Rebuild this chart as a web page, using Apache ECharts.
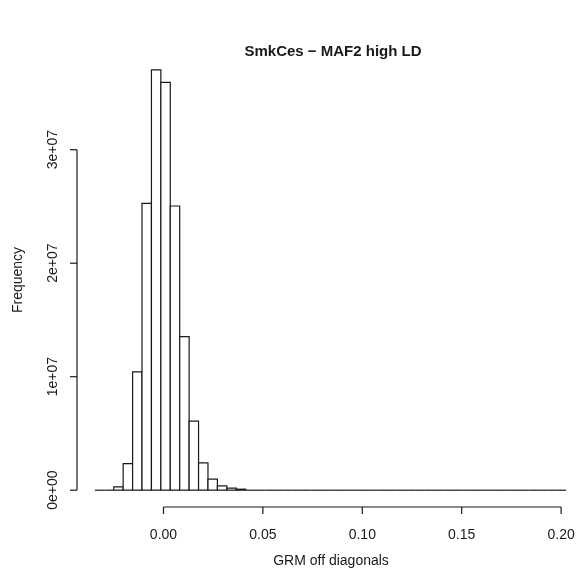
<!DOCTYPE html>
<html>
<head>
<meta charset="utf-8">
<script src="https://cdn.jsdelivr.net/npm/echarts@6/dist/echarts.min.js"></script>
<style>
  html, body { margin: 0; padding: 0; background: #fff; }
  #chart { width: 580px; height: 582px; }
</style>
</head>
<body>
<div id="chart"></div>
<script>
// ---- data ----
const titleText = 'SmkCes \u2212 MAF2 high LD';
const xAxisTitle = 'GRM off diagonals';
const yAxisTitle = 'Frequency';
const binStart = -0.0345;   // first histogram break
const binWidth = 0.00474;   // width of each bin
const counts = [
  5000, 40000, 300000, 2350000, 10430000, 25270000, 37040000, 35930000, 25040000, 13530000,
  6080000, 2410000, 970000, 390000, 180000, 90000, 50000, 30000, 20000, 12000,
  8000, 5000, 3000, 2000, 1000, 500, 300, 200, 100, 50,
  30, 20, 10, 5, 3, 2, 1, 1, 0, 0,
  0, 0, 0, 0, 0, 0, 0, 0, 0, 1
];
const xTickValues = [0, 0.05, 0.10, 0.15, 0.20];
const xTickLabels = ['0.00', '0.05', '0.10', '0.15', '0.20'];
const yTickValues = [0, 10000000, 20000000, 30000000];
const yTickLabels = ['0e+00', '1e+07', '2e+07', '3e+07'];

// ---- build ----
const binData = counts.map((c, i) => [binStart + i * binWidth, binStart + (i + 1) * binWidth, c]);
const X_MIN = -0.0435, X_MAX = 0.208;
const Y_MIN = -1480000, Y_MAX = 38520000;
const FONT = '"Liberation Sans", Arial, Helvetica, sans-serif';
const INK = '#1a1a1a';

function lookup(values, labels, v, tol) {
  for (let i = 0; i < values.length; i++) {
    if (Math.abs(values[i] - v) < tol) return labels[i];
  }
  return '';
}

const chart = echarts.init(document.getElementById('chart'), null, { renderer: 'canvas' });
chart.setOption({
  animation: false,
  backgroundColor: '#ffffff',
  title: {
    text: titleText,
    left: 328,
    top: 39,
    textAlign: 'center',
    textStyle: { fontFamily: FONT, fontSize: 15, fontWeight: 'bold', color: INK }
  },
  grid: { left: 77, right: 0, top: 53, bottom: 75, containLabel: false },
  xAxis: {
    type: 'value',
    min: X_MIN,
    max: X_MAX,
    splitNumber: 5,
    axisLine: { show: false },
    axisTick: { show: false },
    splitLine: { show: false },
    axisLabel: {
      margin: 21,
      fontFamily: FONT, fontSize: 14, color: INK,
      showMinLabel: true, showMaxLabel: true,
      formatter: v => lookup(xTickValues, xTickLabels, v, 1e-6)
    },
    name: xAxisTitle,
    nameLocation: 'middle',
    nameGap: 47,
    nameTextStyle: { fontFamily: FONT, fontSize: 14, color: INK, padding: [0, 0, 0, 8] }
  },
  yAxis: {
    type: 'value',
    min: Y_MIN,
    max: Y_MAX,
    splitNumber: 4,
    axisLine: { show: false },
    axisTick: { show: false },
    splitLine: { show: false },
    axisLabel: {
      rotate: 90,
      margin: 17,
      fontFamily: FONT, fontSize: 14, color: INK,
      formatter: v => lookup(yTickValues, yTickLabels, v, 1)
    },
    name: yAxisTitle,
    nameLocation: 'middle',
    nameGap: 52,
    nameTextStyle: { fontFamily: FONT, fontSize: 14, color: INK }
  },
  series: [
    {
      type: 'custom',
      name: 'hist',
      data: binData,
      encode: { x: [0, 1], y: 2 },
      renderItem: function (params, api) {
        const p0 = api.coord([api.value(0), api.value(2)]);
        const p1 = api.coord([api.value(1), 0]);
        const h = p1[1] - p0[1];
        if (h < 0.6) {
          return {
            type: 'line',
            shape: { x1: p0[0], y1: p1[1], x2: p1[0], y2: p1[1] },
            style: { stroke: INK, lineWidth: 1.2 }
          };
        }
        return {
          type: 'rect',
          shape: { x: p0[0], y: p0[1], width: p1[0] - p0[0], height: h },
          style: { fill: '#ffffff', stroke: INK, lineWidth: 1.2 }
        };
      }
    },
    {
      type: 'custom',
      name: 'axes',
      data: [[0, 0]],
      silent: true,
      renderItem: function (params, api) {
        const children = [];
        const st = { stroke: INK, lineWidth: 1.2 };
        const tl = 7;
        // x axis
        const xa = api.coord([xTickValues[0], Y_MIN]);
        const xb = api.coord([xTickValues[xTickValues.length - 1], Y_MIN]);
        children.push({ type: 'line', shape: { x1: xa[0], y1: xa[1], x2: xb[0], y2: xb[1] }, style: st });
        xTickValues.forEach(v => {
          const p = api.coord([v, Y_MIN]);
          children.push({ type: 'line', shape: { x1: p[0], y1: p[1], x2: p[0], y2: p[1] + tl }, style: st });
        });
        // y axis
        const ya = api.coord([X_MIN, yTickValues[0]]);
        const yb = api.coord([X_MIN, yTickValues[yTickValues.length - 1]]);
        children.push({ type: 'line', shape: { x1: ya[0], y1: ya[1], x2: yb[0], y2: yb[1] }, style: st });
        yTickValues.forEach(v => {
          const p = api.coord([X_MIN, v]);
          children.push({ type: 'line', shape: { x1: p[0], y1: p[1], x2: p[0] - tl, y2: p[1] }, style: st });
        });
        return { type: 'group', children: children };
      },
      clip: false
    }
  ]
});
</script>
</body>
</html>
